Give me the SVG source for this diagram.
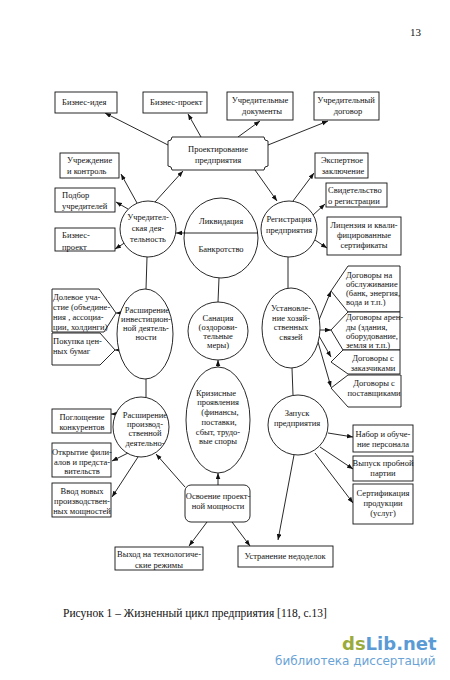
<svg xmlns="http://www.w3.org/2000/svg" width="450" height="680" viewBox="0 0 450 680">
<style>
.t{font-family:"Liberation Serif","Times New Roman",serif;font-size:8.5px;fill:#111}
.c{text-anchor:middle}
.b{fill:#fff;stroke:#111;stroke-width:0.9}
.l{fill:none;stroke:#111;stroke-width:0.9}
.a{fill:none;stroke:#111;stroke-width:0.9;marker-end:url(#ah)}
</style>
<defs>
<marker id="ah" markerWidth="6" markerHeight="5" refX="6" refY="2.3" orient="auto" markerUnits="userSpaceOnUse">
<path d="M0,0 L6,2.3 L0,4.6 z" fill="#111"/>
</marker>
</defs>
<rect width="450" height="680" fill="#fff"/>
<text x="410" y="36" style="font-family:'Liberation Serif',serif;font-size:11px;fill:#111">13</text>

<g id="connectors">
<line class="a" x1="168" y1="145" x2="105" y2="113"/>
<line class="a" x1="201" y1="137" x2="188" y2="114"/>
<line class="a" x1="238" y1="137" x2="260" y2="121"/>
<line class="a" x1="268" y1="145" x2="328" y2="121"/>
<line class="a" x1="155" y1="202" x2="183" y2="171"/>
<line class="a" x1="255" y1="170" x2="277" y2="201"/>
<line class="a" x1="137" y1="203" x2="121" y2="174"/>
<line class="a" x1="128" y1="209" x2="116" y2="202"/>
<line class="a" x1="126" y1="242" x2="115" y2="249"/>
<line class="a" x1="293" y1="201" x2="314" y2="173"/>
<line class="a" x1="312" y1="216" x2="325" y2="204"/>
<line class="a" x1="315" y1="240" x2="327" y2="248"/>
<line class="a" x1="258" y1="233" x2="176" y2="233"/>
<line class="l" x1="147" y1="257" x2="146" y2="289"/>
<line class="l" x1="146" y1="379" x2="146" y2="398"/>
<line class="l" x1="219" y1="278" x2="218" y2="302"/>
<line class="a" x1="218" y1="367" x2="218" y2="360"/>
<line class="a" x1="218" y1="485" x2="218" y2="473"/>
<line class="l" x1="288" y1="257" x2="288" y2="288"/>
<line class="l" x1="292" y1="368" x2="293" y2="395"/>
<line class="a" x1="121" y1="313" x2="116" y2="313"/>
<line class="a" x1="120" y1="350" x2="115" y2="350"/>
<line class="a" x1="319" y1="320" x2="331" y2="291"/>
<line class="a" x1="320" y1="330" x2="331" y2="330"/>
<line class="a" x1="319" y1="336" x2="331" y2="357"/>
<line class="a" x1="318" y1="342" x2="331" y2="387"/>
<line class="a" x1="116" y1="414" x2="111" y2="414"/>
<line class="a" x1="128" y1="453" x2="112" y2="461"/>
<line class="a" x1="138" y1="457" x2="112" y2="497"/>
<line class="a" x1="185" y1="487" x2="156" y2="454"/>
<line class="a" x1="207" y1="522" x2="189" y2="546"/>
<line class="a" x1="232" y1="522" x2="250" y2="546"/>
<line class="a" x1="328" y1="433" x2="353" y2="437"/>
<line class="a" x1="320" y1="447" x2="353" y2="469"/>
<line class="a" x1="315" y1="453" x2="353" y2="503"/>
<line class="a" x1="294" y1="455" x2="278" y2="540"/>
</g>

<g id="biznes-ideya"><rect class="b" x="55" y="92" width="62" height="21"/><text class="t" x="62" y="105">Бизнес-идея</text></g>
<g id="biznes-proekt-top"><rect class="b" x="143" y="92" width="64" height="21"/><text class="t" x="150" y="105">Бизнес-проект</text></g>
<g id="uchred-doc"><rect class="b" x="227" y="92" width="66" height="28"/><text class="t c" x="260" y="103">Учредительные</text><text class="t c" x="262" y="114">документы</text></g>
<g id="uchred-dogovor"><rect class="b" x="314" y="92" width="65" height="28"/><text class="t c" x="346" y="103">Учредительный</text><text class="t c" x="348" y="114">договор</text></g>

<g id="proektirovanie"><path class="b" d="M172,137 H264 A4,4 0 0 0 268,141 V166 A4,4 0 0 0 264,170 H172 A4,4 0 0 0 168,166 V141 A4,4 0 0 0 172,137 Z"/><text class="t c" x="218" y="152">Проектирование</text><text class="t c" x="218" y="163">предприятия</text></g>

<g id="uchrezhdenie"><rect class="b" x="60" y="153" width="59" height="25"/><text class="t" x="67" y="163">Учреждение</text><text class="t" x="67" y="174">и контроль</text></g>
<g id="podbor"><rect class="b" x="55" y="188" width="60" height="24"/><text class="t" x="62" y="198">Подбор</text><text class="t" x="62" y="209">учредителей</text></g>
<g id="biznes-proekt-left"><rect class="b" x="55" y="228" width="60" height="23"/><text class="t" x="62" y="238">Бизнес-</text><text class="t" x="62" y="250">проект</text></g>

<g id="uchred-deyat"><ellipse class="b" cx="148" cy="229" rx="28" ry="28"/><text class="t c" x="148" y="220">Учредител-</text><text class="t c" x="148" y="231">ская дея-</text><text class="t c" x="148" y="242">тельность</text></g>

<g id="likvidaciya"><ellipse class="b" cx="221" cy="238" rx="37" ry="40"/><line class="l" x1="184" y1="233" x2="258" y2="233"/><text class="t c" x="221" y="224">Ликвидация</text><text class="t c" x="221" y="252">Банкротство</text></g>

<g id="registraciya"><ellipse class="b" cx="289" cy="229" rx="28" ry="28"/><text class="t c" x="289" y="222">Регистрация</text><text class="t c" x="289" y="233">предприятия</text></g>

<g id="ekspertnoe"><rect class="b" x="315" y="153" width="53" height="25"/><text class="t c" x="342" y="163">Экспертное</text><text class="t c" x="343" y="174">заключение</text></g>
<g id="svidetelstvo"><rect class="b" x="326" y="183" width="61" height="24"/><text class="t" x="328" y="193">Свидетельство</text><text class="t" x="328" y="204">о регистрации</text></g>
<g id="licenziya"><rect class="b" x="327" y="217" width="74" height="38"/><text class="t c" x="364" y="228">Лицензия и квали-</text><text class="t c" x="364" y="238">фицированные</text><text class="t c" x="364" y="248">сертификаты</text></g>

<g id="dolevoe"><path class="b" d="M52,289 H99 L116,313 L104,332 H52 Z"/><text class="t" x="53" y="300">Долевое уча-</text><text class="t" x="53" y="310">стие (объедине-</text><text class="t" x="53" y="320">ния , ассоциа-</text><text class="t" x="53" y="330">ции, холдинги)</text></g>
<g id="pokupka"><path class="b" d="M52,333 H100 L115,350 L100,365 H52 Z"/><text class="t" x="53" y="344">Покупка цен-</text><text class="t" x="53" y="354">ных бумаг</text></g>

<g id="rasshirenie-inv"><ellipse class="b" cx="145" cy="334" rx="28" ry="45"/><text class="t c" x="147" y="313">Расширение</text><text class="t c" x="146" y="322">инвестицион-</text><text class="t c" x="146" y="331">ной деятель-</text><text class="t c" x="146" y="340">ности</text></g>

<g id="sanaciya"><ellipse class="b" cx="218" cy="331" rx="30" ry="29"/><text class="t c" x="218" y="321">Санация</text><text class="t c" x="218" y="330">(оздорови-</text><text class="t c" x="218" y="339">тельные</text><text class="t c" x="218" y="348">меры)</text></g>

<g id="ustanovlenie"><ellipse class="b" cx="291" cy="328" rx="29" ry="40"/><text class="t c" x="291" y="311">Установле-</text><text class="t c" x="291" y="321">ние хозяй-</text><text class="t c" x="291" y="330">ственных</text><text class="t c" x="291" y="340">связей</text></g>

<g id="dog-obsl"><path class="b" d="M348,266 H400 V312 H348 L331,291 Z"/><text class="t" x="346" y="278">Договоры на</text><text class="t" x="346" y="287">обслуживание</text><text class="t" x="346" y="296">(банк, энергия,</text><text class="t" x="346" y="305">вода и т.п.)</text></g>
<g id="dog-arendy"><path class="b" d="M348,312 H400 V350 H343 L331,330 Z"/><text class="t" x="346" y="320">Договоры арен-</text><text class="t" x="346" y="330">ды (здания,</text><text class="t" x="346" y="339">оборудование,</text><text class="t" x="346" y="348">земля и т.п.)</text></g>
<g id="dog-zakaz"><path class="b" d="M343,350 H400 V374 H348 L331,362 Z"/><text class="t c" x="373" y="361">Договоры с</text><text class="t c" x="373" y="371">заказчиками</text></g>
<g id="dog-postav"><path class="b" d="M348,375 H401 V407 H348 L331,388 Z"/><text class="t c" x="374" y="386">Договоры с</text><text class="t c" x="374" y="396">поставщиками</text></g>

<g id="krizisnye"><ellipse class="b" cx="218" cy="420" rx="32" ry="53"/><text class="t c" x="216" y="396">Кризисные</text><text class="t c" x="218" y="405">проявления</text><text class="t c" x="220" y="415">(финансы,</text><text class="t c" x="219" y="425">поставки,</text><text class="t c" x="218" y="435">сбыт, трудо-</text><text class="t c" x="218" y="444">вые споры</text></g>

<g id="rasshirenie-pr"><ellipse class="b" cx="141" cy="427" rx="28" ry="30"/><text class="t c" x="145" y="418">Расширение</text><text class="t c" x="145" y="427">производ-</text><text class="t c" x="145" y="436">ственной</text><text class="t c" x="145" y="446">деятельно-</text></g>

<g id="zapusk"><ellipse class="b" cx="298" cy="425" rx="30" ry="30"/><text class="t c" x="297" y="416">Запуск</text><text class="t c" x="297" y="426">предприятия</text></g>

<g id="poglosh"><rect class="b" x="52" y="409" width="59" height="24"/><text class="t c" x="82" y="420">Поглощение</text><text class="t c" x="82" y="430">конкурентов</text></g>
<g id="otkrytie"><rect class="b" x="52" y="443" width="59" height="34"/><text class="t c" x="82" y="455">Открытие фили-</text><text class="t c" x="82" y="465">алов и предста-</text><text class="t c" x="82" y="474">вительств</text></g>
<g id="vvod"><rect class="b" x="52" y="483" width="59" height="34"/><text class="t c" x="82" y="494">Ввод новых</text><text class="t c" x="82" y="504">производствен-</text><text class="t c" x="82" y="514">ных мощностей</text></g>

<g id="osvoenie"><rect class="b" x="185" y="485" width="65" height="37" rx="6"/><text class="t c" x="218" y="499">Освоение проект-</text><text class="t c" x="218" y="509">ной мощности</text></g>

<g id="nabor"><rect class="b" x="353" y="425" width="60" height="27"/><text class="t c" x="383" y="437">Набор и обуче-</text><text class="t c" x="383" y="447">ние персонала</text></g>
<g id="vypusk"><rect class="b" x="353" y="456" width="60" height="25"/><text class="t c" x="383" y="466">Выпуск пробной</text><text class="t c" x="383" y="476">партии</text></g>
<g id="sertif"><rect class="b" x="353" y="484" width="60" height="40"/><text class="t c" x="383" y="496">Сертификация</text><text class="t c" x="383" y="506">продукции</text><text class="t c" x="383" y="516">(услуг)</text></g>

<g id="vyhod"><rect class="b" x="115" y="547" width="88" height="23"/><text class="t c" x="159" y="557">Выход на технологиче-</text><text class="t c" x="159" y="568">ские режимы</text></g>
<g id="ustranenie"><rect class="b" x="238" y="546" width="95" height="21"/><text class="t c" x="285" y="559">Устранение недоделок</text></g>

<text x="63" y="617" style="font-family:'Liberation Serif',serif;font-size:11.5px;fill:#111">Рисунок 1 – Жизненный цикл предприятия [118, с.13]</text>
<text x="342" y="650" style="font-family:'DejaVu Sans',sans-serif;font-weight:bold;font-size:18px"><tspan fill="#9aab3c">ds</tspan><tspan fill="#5b9bd5">Lib.net</tspan></text>
<text x="275" y="665" style="font-family:'DejaVu Sans',sans-serif;font-size:12px;fill:#6aa3d6">библиотека диссертаций</text>
</svg>
